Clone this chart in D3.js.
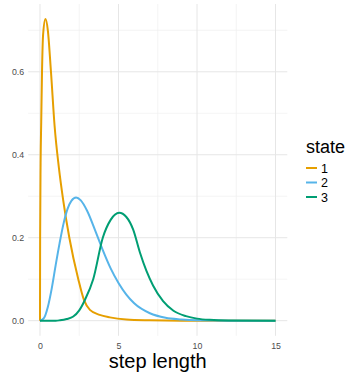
<!DOCTYPE html>
<html>
<head>
<meta charset="utf-8">
<script src="https://cdn.jsdelivr.net/npm/d3@7"></script>
<style>
  html, body { margin: 0; padding: 0; background: #fff; }
  svg { display: block; font-family: "Liberation Sans", Arial, sans-serif; }
</style>
</head>
<body>
<svg id="chart"></svg>
<script>
// values
const states = ["1", "2", "3"];
const colors = ["#E69F00", "#56B4E9", "#009E73"];

const x1 = [0, 0.01, 0.04, 0.08, 0.13, 0.2, 0.35, 0.5, 0.7, 0.93, 1.2, 1.48, 1.87, 2.44, 2.8, 3.18, 3.8, 4.45, 5.5, 7, 9, 15];
const y1 = [0, 0.2, 0.38, 0.48, 0.6, 0.69, 0.727, 0.7, 0.6, 0.47, 0.37, 0.29, 0.2, 0.1, 0.05, 0.026, 0.014, 0.008, 0.003, 0.001, 0, 0];

const x2 = [0, 0.25, 0.5, 0.75, 1, 1.25, 1.5, 1.75, 2, 2.3, 2.6, 3, 3.5, 4, 4.5, 5, 5.5, 6, 7, 8, 9, 10, 12, 15];
const y2 = [0, 0.006, 0.033, 0.078, 0.134, 0.187, 0.234, 0.269, 0.289, 0.297, 0.29, 0.265, 0.219, 0.17, 0.126, 0.091, 0.063, 0.042, 0.018, 0.007, 0.003, 0.001, 0.0001, 0];

const x3 = [0, 1, 1.27, 1.7, 2.12, 2.5, 2.86, 3.39, 4.0, 4.5, 5.04, 5.5, 5.93, 6.36, 6.78, 7.2, 7.84, 8.5, 9.3, 10, 10.8, 12, 15];
const y3 = [0, 0, 0.001, 0.004, 0.01, 0.025, 0.05, 0.1, 0.2, 0.243, 0.26, 0.25, 0.22, 0.165, 0.12, 0.085, 0.047, 0.024, 0.011, 0.005, 0.002, 0.0005, 0];

const xTicks = [0, 5, 10, 15];
const xMinor = [2.5, 7.5, 12.5];
const yTicks = [0, 0.2, 0.4, 0.6];
const yMinor = [0.1, 0.3, 0.5, 0.7];

const width = 348;
const height = 377;

const svg = d3.select("#chart").attr("width", width).attr("height", height);

// ggplot-like expanded scales
const x = d3.scaleLinear().domain([-0.75, 15.75]).range([28.2, 287.3]);
const y = d3.scaleLinear().domain([-0.0364, 0.7634]).range([335.8, 4]);

const [px0, px1] = x.range();
const [py0, py1] = y.range();

// Grid
const grid = svg.append("g");
grid.selectAll(".vminor").data(xMinor).enter().append("line")
  .attr("x1", d => x(d)).attr("x2", d => x(d)).attr("y1", py0).attr("y2", py1)
  .attr("stroke", "#efefef").attr("stroke-width", 0.7);
grid.selectAll(".hminor").data(yMinor).enter().append("line")
  .attr("y1", d => y(d)).attr("y2", d => y(d)).attr("x1", px0).attr("x2", px1)
  .attr("stroke", "#efefef").attr("stroke-width", 0.7);
grid.selectAll(".vmajor").data(xTicks).enter().append("line")
  .attr("x1", d => x(d)).attr("x2", d => x(d)).attr("y1", py0).attr("y2", py1)
  .attr("stroke", "#e6e6e6").attr("stroke-width", 1);
grid.selectAll(".hmajor").data(yTicks).enter().append("line")
  .attr("y1", d => y(d)).attr("y2", d => y(d)).attr("x1", px0).attr("x2", px1)
  .attr("stroke", "#e6e6e6").attr("stroke-width", 1);

// Curves
const series = [
  { state: states[0], xs: x1, ys: y1 },
  { state: states[1], xs: x2, ys: y2 },
  { state: states[2], xs: x3, ys: y3 }
];

const line = d3.line()
  .x(d => x(d[0]))
  .y(d => y(d[1]))
  .curve(d3.curveMonotoneX);

svg.append("g").selectAll("path")
  .data(series)
  .enter()
  .append("path")
  .attr("d", s => line(s.xs.map((v, i) => [v, s.ys[i]])))
  .attr("fill", "none")
  .attr("stroke", (s, i) => colors[i])
  .attr("stroke-width", 2)
  .attr("stroke-linejoin", "round");

// Axes (text only, like theme_minimal)
const xAxis = svg.append("g")
  .attr("transform", `translate(0,${py0})`)
  .call(d3.axisBottom(x).tickValues(xTicks).tickSize(0).tickPadding(7).tickFormat(d3.format("d")));
xAxis.select(".domain").remove();
xAxis.selectAll("text").attr("fill", "#4d4d4d").attr("font-size", 8.8).attr("font-family", null);

const yAxis = svg.append("g")
  .attr("transform", `translate(${px0},0)`)
  .call(d3.axisLeft(y).tickValues(yTicks).tickSize(0).tickPadding(4).tickFormat(d3.format(".1f")));
yAxis.select(".domain").remove();
yAxis.selectAll("text").attr("fill", "#4d4d4d").attr("font-size", 8.8).attr("font-family", null);

// Axis title
svg.append("text")
  .attr("x", (px0 + px1) / 2)
  .attr("y", 368)
  .attr("text-anchor", "middle")
  .attr("font-size", 20)
  .attr("fill", "#000")
  .text("step length");

// Legend
const legend = svg.append("g");
legend.append("text")
  .attr("x", 306)
  .attr("y", 153)
  .attr("font-size", 18)
  .attr("fill", "#000")
  .text("state");

const keys = legend.selectAll(".key")
  .data(states)
  .enter()
  .append("g")
  .attr("transform", (d, i) => `translate(306,${168 + i * 14.5})`);
keys.append("line")
  .attr("x1", 0).attr("x2", 11)
  .attr("stroke", (d, i) => colors[i])
  .attr("stroke-width", 2);
keys.append("text")
  .attr("x", 15)
  .attr("dy", "0.36em")
  .attr("font-size", 12.5)
  .attr("fill", "#000")
  .text(d => d);
</script>
</body>
</html>
